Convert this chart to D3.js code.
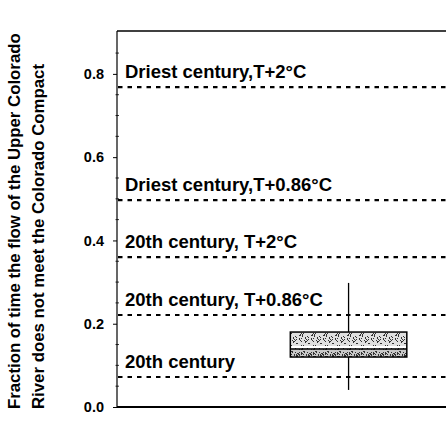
<!DOCTYPE html>
<html><head><meta charset="utf-8">
<script src="https://cdn.jsdelivr.net/npm/d3@7"></script>
<style>body{margin:0;background:#fff}svg{display:block}text{font-family:"Liberation Sans",Arial,sans-serif;font-weight:bold;fill:#000}</style>
</head><body><svg id="c" width="446" height="433"></svg>
<script>
// Data
const scenarioLabels = ["Driest century,T+2\u00B0C","Driest century,T+0.86\u00B0C","20th century, T+2\u00B0C","20th century, T+0.86\u00B0C","20th century"];
const scenarioValues = [0.768, 0.497, 0.360, 0.221, 0.072];
const boxStats = {whiskerLow:0.041, q1:0.120, median:0.139, q3:0.180, whiskerHigh:0.298};
const yTicks = [0.0, 0.2, 0.4, 0.6, 0.8];
const yTitle = ["Fraction of time the flow of the Upper Colorado","River does not meet the Colorado Compact"];

const svg = d3.select("#c");
const mLeft = 117, mTop = 31, mBottom = 407, mRight = 470;
const y = d3.scaleLinear().domain([0, 0.903]).range([mBottom, mTop]);
const x = d3.scaleLinear().domain([0, 1]).range([mLeft, mRight]);
const boxCenter = 0.656, boxHalf = 0.165;

// patterns
const defs = svg.append("defs");
function stipple(id, bg, dens, seed){
  const p = defs.append("pattern").attr("id", id).attr("patternUnits","userSpaceOnUse").attr("width",12).attr("height",12);
  p.append("rect").attr("width",12).attr("height",12).attr("fill",bg);
  let s = seed;
  const rnd = () => { s = (s*9301+49297)%233280; return s/233280; };
  for(let i=0;i<dens;i++){ p.append("rect").attr("x",Math.floor(rnd()*12)).attr("y",Math.floor(rnd()*12)).attr("width",1).attr("height",1).attr("fill","#333"); }
}
stipple("pLight", "#e0e0e0", 32, 7);
stipple("pDark", "#c8c8c8", 55, 13);

// frame
svg.append("line").attr("x1",mLeft).attr("x2",mRight).attr("y1",mTop).attr("y2",mTop).attr("stroke","#000").attr("stroke-width",1.5);
svg.append("line").attr("x1",mLeft).attr("x2",mRight).attr("y1",mBottom).attr("y2",mBottom).attr("stroke","#000").attr("stroke-width",2);

// y axis
const yAxis = d3.axisLeft(y).tickValues(yTicks).tickFormat(d3.format(".1f")).tickSize(4).tickPadding(9);
const ga = svg.append("g").attr("transform",`translate(${mLeft},0)`).call(yAxis);
ga.select(".domain").attr("stroke","#000").attr("stroke-width",1.2).attr("d",`M0,${mBottom}V${mTop}`);
ga.selectAll(".tick line").attr("stroke","#000").attr("stroke-width",1);
ga.selectAll(".tick text").attr("font-size",14.5).attr("font-weight","bold").attr("font-family","'Liberation Sans',Arial,sans-serif").attr("fill","#000");
// minor ticks
const minor = d3.range(0.05, 0.9, 0.05).filter(v => Math.abs(v*5 - Math.round(v*5)) > 1e-6);
svg.append("g").selectAll("line").data(minor).join("line")
  .attr("x1",mLeft-1.5).attr("x2",mLeft+2).attr("y1",d=>y(d)).attr("y2",d=>y(d)).attr("stroke","#000").attr("stroke-width",0.8);

// y title
const tg = svg.append("g");
yTitle.forEach((t,i)=>{
  tg.append("text").attr("transform",`translate(${20+i*24},409) rotate(-90)`).attr("font-size",16.8).text(t);
});

// scenario lines
svg.append("g").selectAll("line").data(scenarioValues).join("line")
  .attr("x1",mLeft+1).attr("x2",mRight).attr("y1",d=>y(d)).attr("y2",d=>y(d))
  .attr("stroke","#000").attr("stroke-width",2.2).attr("stroke-dasharray","4.5,5");
svg.append("g").selectAll("text").data(scenarioLabels).join("text")
  .attr("x",mLeft+8).attr("y",(d,i)=>y(scenarioValues[i])-9).attr("font-size",18.5).text(d=>d);

// box plot
const bx0 = x(boxCenter-boxHalf), bx1 = x(boxCenter+boxHalf), bc = x(boxCenter);
svg.append("line").attr("x1",bc).attr("x2",bc).attr("y1",y(boxStats.whiskerLow)).attr("y2",y(boxStats.whiskerHigh)).attr("stroke","#000").attr("stroke-width",1.3);
svg.append("rect").attr("x",bx0).attr("y",y(boxStats.q3)).attr("width",bx1-bx0).attr("height",y(boxStats.median)-y(boxStats.q3)).attr("fill","url(#pLight)");
svg.append("rect").attr("x",bx0).attr("y",y(boxStats.median)).attr("width",bx1-bx0).attr("height",y(boxStats.q1)-y(boxStats.median)).attr("fill","url(#pDark)");
svg.append("line").attr("x1",bx0).attr("x2",bx1).attr("y1",y(boxStats.median)-2).attr("y2",y(boxStats.median)-2).attr("stroke","#fff").attr("stroke-width",2);
svg.append("line").attr("x1",bx0).attr("x2",bx1).attr("y1",y(boxStats.median)).attr("y2",y(boxStats.median)).attr("stroke","#000").attr("stroke-width",1.5);
svg.append("rect").attr("x",bx0).attr("y",y(boxStats.q3)).attr("width",bx1-bx0).attr("height",y(boxStats.q1)-y(boxStats.q3)).attr("fill","none").attr("stroke","#000").attr("stroke-width",1.5);
</script></body></html>
